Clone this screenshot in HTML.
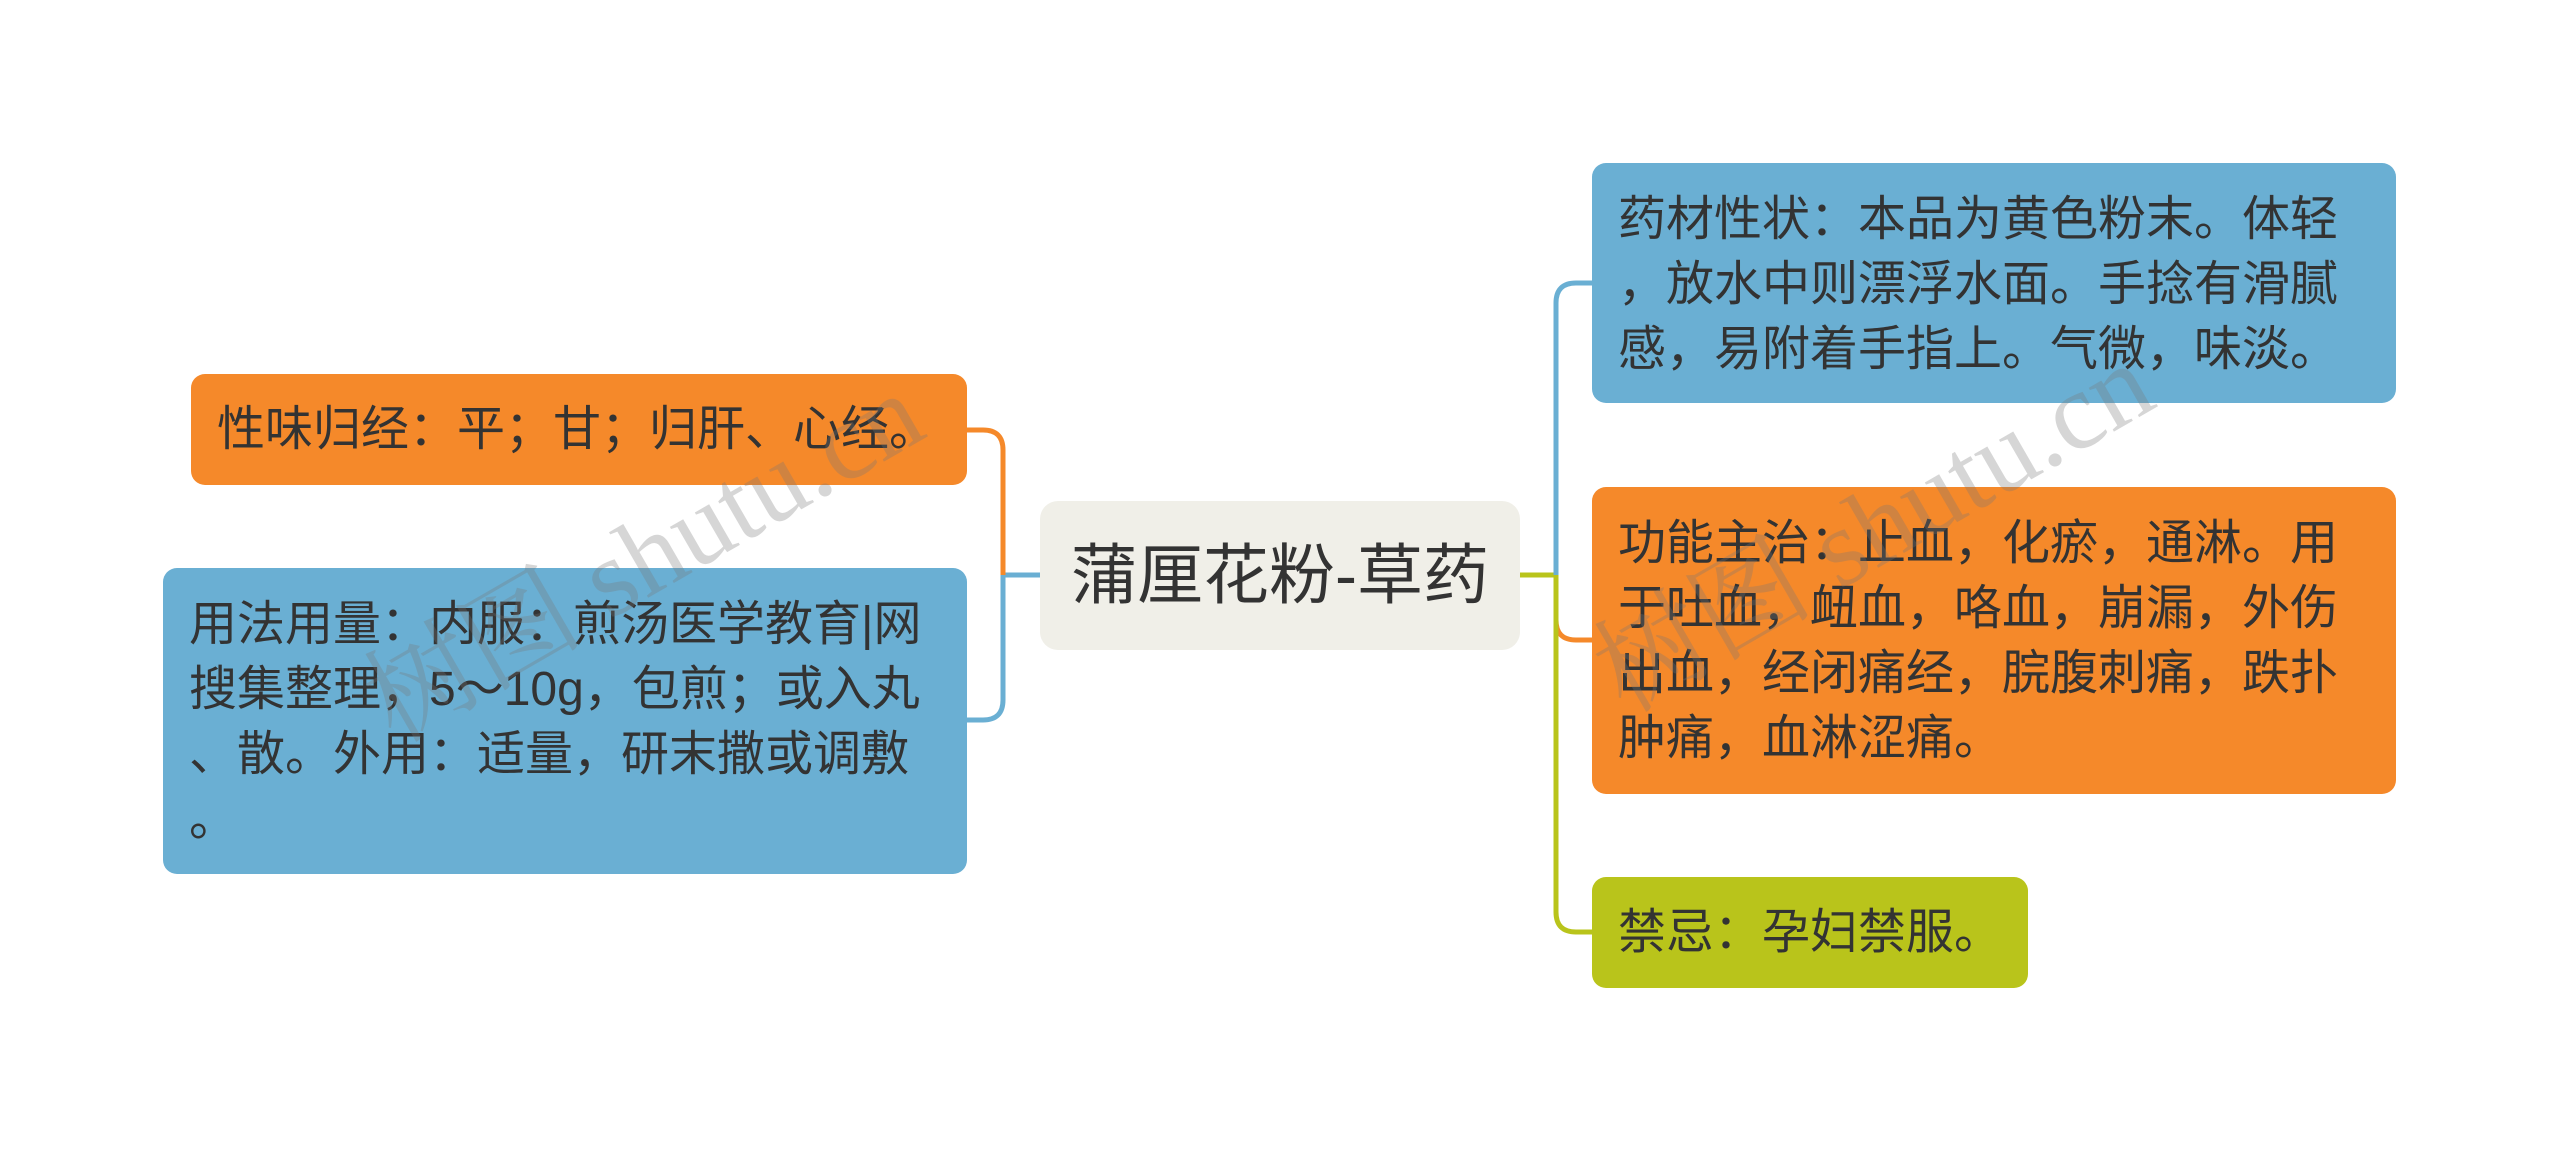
<!DOCTYPE html>
<html><head><meta charset="utf-8">
<style>
html,body{margin:0;padding:0;background:#fff;}
body{width:2560px;height:1153px;position:relative;overflow:hidden;font-family:"Liberation Sans","Noto Sans CJK SC",sans-serif;color:#333;}
.b{position:absolute;box-sizing:border-box;border-radius:14px;font-size:48px;line-height:65px;white-space:nowrap;padding:24px 0 0 26px;}
.o{background:#f5892a;}
.bl{background:#6aafd3;}
.g{background:#b9c41b;}
.c{position:absolute;left:1040px;top:501px;width:480px;height:149px;background:#f0efe8;border-radius:18px;font-size:66px;line-height:149px;text-align:center;color:#333;}
.wm{position:absolute;font-family:"Liberation Serif","Noto Serif CJK SC",serif;font-size:110px;color:rgba(120,120,120,0.3);transform:rotate(-30deg);white-space:nowrap;}
</style></head><body>
<svg width="2560" height="1153" style="position:absolute;left:0;top:0">
<g fill="none" stroke-width="5">
<path d="M1040 575 H1003" stroke="#6aafd3"/>
<path d="M1003 575 V450 Q1003 430 983 430 H967" stroke="#f5892a"/>
<path d="M1003 575 V700 Q1003 720 983 720 H967" stroke="#6aafd3"/>
<path d="M1520 575 H1556" stroke="#b9c41b"/>
<path d="M1556 575 V303 Q1556 283 1576 283 H1592" stroke="#6aafd3"/>
<path d="M1556 575 V620 Q1556 640 1576 640 H1592" stroke="#f5892a"/>
<path d="M1556 575 V912 Q1556 932 1576 932 H1592" stroke="#b9c41b"/>
</g></svg>
<div class="c">蒲厘花粉-草药</div>
<div class="b o" style="left:191px;top:374px;width:776px;height:111px;padding-top:23px;">性味归经：平；甘；归肝、心经。</div>
<div class="b bl" style="left:163px;top:568px;width:804px;height:306px;">用法用量：内服：煎汤医学教育|网<br>搜集整理，5～10g，包煎；或入丸<br>、散。外用：适量，研末撒或调敷<br>。</div>
<div class="b bl" style="left:1592px;top:163px;width:804px;height:240px;">药材性状：本品为黄色粉末。体轻<br>，放水中则漂浮水面。手捻有滑腻<br>感，易附着手指上。气微，味淡。</div>
<div class="b o" style="left:1592px;top:487px;width:804px;height:307px;">功能主治：止血，化瘀，通淋。用<br>于吐血，衄血，咯血，崩漏，外伤<br>出血，经闭痛经，脘腹刺痛，跌扑<br>肿痛，血淋涩痛。</div>
<div class="b g" style="left:1592px;top:877px;width:436px;height:111px;padding-top:23px;">禁忌：孕妇禁服。</div>
<div class="wm" style="left:330px;top:470px;">树图 shutu.cn</div>
<div class="wm" style="left:1560px;top:440px;">树图 shutu.cn</div>
</body></html>
